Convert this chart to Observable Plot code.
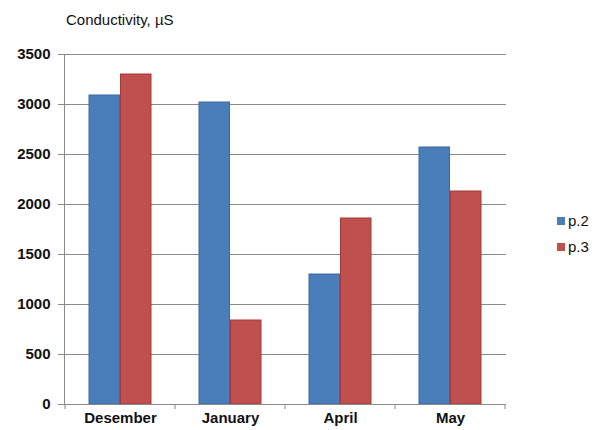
<!DOCTYPE html>
<html><head><meta charset="utf-8">
<script src="https://cdn.jsdelivr.net/npm/d3@7"></script>
<script src="https://cdn.jsdelivr.net/npm/@observablehq/plot@0.6"></script>
<style>
body{margin:0;background:#fff;font-family:"Liberation Sans",Arial,sans-serif}
#wrap{position:relative;width:596px;height:430px}
#title{position:absolute;left:66px;top:12px;font-size:15px;color:#111;line-height:16px;z-index:2}
.leg{position:absolute;left:557px;font-size:15px;color:#111;line-height:16px;display:flex;align-items:center;z-index:2}
.sw{width:8px;height:8px;margin-right:3px;display:inline-block}
</style></head>
<body><div id="wrap"><div id="title">Conductivity, µS</div></div>
<script>
const months = ["Desember","January","April","May"];
const seriesNames = ["p.2","p.3"];
const p2 = [3090,3020,1300,2570];
const p3 = [3300,840,1860,2130];
const yTicks = [0,500,1000,1500,2000,2500,3000,3500];
const colors = ["#4a7ebb","#c0504d"];
const borders = ["#3a69a3","#a33a37"];

const rows2 = months.map((m,i)=>({month:m,value:p2[i]}));
const rows3 = months.map((m,i)=>({month:m,value:p3[i]}));

function boundaryTicks(index, scales, values, dims) {
  const g = d3.create("svg:g");
  const x = scales.x;
  const yb = dims.height - dims.marginBottom;
  const edges = months.map(m => x(m)).concat([x(months[months.length-1]) + x.bandwidth()]);
  for (const e of edges) {
    g.append("line").attr("x1", e).attr("x2", e).attr("y1", yb).attr("y2", yb + 5)
      .attr("stroke", "#888").attr("stroke-width", 1);
  }
  return g.node();
}

const chart = Plot.plot({
  width: 596, height: 430,
  marginLeft: 64, marginRight: 90, marginTop: 54, marginBottom: 26,
  style: {fontFamily: '"Liberation Sans", Arial, sans-serif', background: "transparent"},
  x: {domain: months, padding: 0, label: null},
  y: {domain: [0,3500], label: null},
  marks: [
    Plot.gridY(yTicks, {stroke: "#8a8a8a", strokeOpacity: 1}),
    Plot.barY(rows2, {x: "month", y: "value", fill: colors[0], stroke: borders[0], insetLeft: 24, insetRight: 55.5}),
    Plot.barY(rows3, {x: "month", y: "value", fill: colors[1], stroke: borders[1], insetLeft: 55.5, insetRight: 24}),
    Plot.frame({anchor: "left", stroke: "#8a8a8a"}),
    Plot.ruleY([0], {stroke: "#8a8a8a"}),
    Plot.axisY(yTicks, {tickSize: 6, tickPadding: 8, fontSize: 15, fontWeight: "bold", stroke: "#8a8a8a", fill: "#111", tickFormat: d => String(d), label: null}),
    Plot.axisX({tickSize: 0, tickPadding: 8, fontSize: 15, fontWeight: "bold", fill: "#111", label: null}),
    boundaryTicks
  ]
});
const wrap = document.getElementById("wrap");
chart.style.position = "absolute"; chart.style.left = "0"; chart.style.top = "0";
wrap.insertBefore(chart, wrap.firstChild);

seriesNames.forEach((s,i) => {
  const d = document.createElement("div");
  d.className = "leg";
  d.style.top = (213 + i*26) + "px";
  d.innerHTML = `<span class="sw" style="background:${colors[i]}"></span>${s}`;
  wrap.appendChild(d);
});
</script></body></html>
